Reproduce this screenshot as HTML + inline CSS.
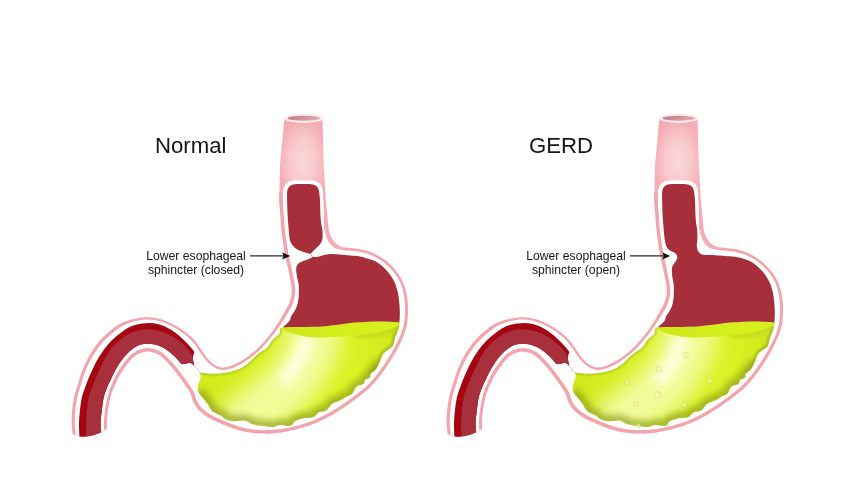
<!DOCTYPE html>
<html><head><meta charset="utf-8"><title>GERD</title>
<style>
html,body{margin:0;padding:0;background:#fff;}
body{width:852px;height:480px;overflow:hidden;position:relative;font-family:"Liberation Sans",sans-serif;color:#161616;}
svg{position:absolute;left:0;top:0;}
.t,.l{will-change:transform;}
.t{position:absolute;white-space:nowrap;font-size:22.2px;line-height:22px;}
.l{position:absolute;white-space:nowrap;font-size:12.2px;line-height:14px;text-align:center;width:140px;}
</style></head><body>
<svg width="852" height="480" viewBox="0 0 852 480">
<defs>
<radialGradient id="tubeg" gradientUnits="userSpaceOnUse" cx="303" cy="162" r="30" gradientTransform="translate(303 162) scale(0.85 1.5) translate(-303 -162)">
<stop offset="0" stop-color="#fbd8da"/><stop offset="0.5" stop-color="#f9c9cc"/><stop offset="1" stop-color="#f4abb2"/></radialGradient>
<linearGradient id="holeg" x1="0" y1="0" x2="1" y2="0.3"><stop offset="0" stop-color="#c07a86"/><stop offset="0.5" stop-color="#cf8e98"/><stop offset="1" stop-color="#e2a9b0"/></linearGradient>
<linearGradient id="liqg" gradientUnits="userSpaceOnUse" x1="200" y1="390" x2="400" y2="340">
<stop offset="0" stop-color="#d0ea1c"/><stop offset="0.3" stop-color="#d6f01e"/><stop offset="0.75" stop-color="#daf324"/><stop offset="1" stop-color="#d0e81c"/></linearGradient>
<filter id="blur" x="-20%" y="-20%" width="140%" height="140%"><feGaussianBlur stdDeviation="3.2"/></filter>
<filter id="blur1" x="-20%" y="-20%" width="140%" height="140%"><feGaussianBlur stdDeviation="0.9"/></filter>
<filter id="blur4" x="-60%" y="-60%" width="220%" height="220%"><feGaussianBlur stdDeviation="5"/></filter>
<filter id="blur8" x="-60%" y="-60%" width="220%" height="220%"><feGaussianBlur stdDeviation="10"/></filter>
<linearGradient id="surfg" gradientUnits="userSpaceOnUse" x1="281" y1="0" x2="400" y2="0"><stop offset="0" stop-color="#cee61a"/><stop offset="0.5" stop-color="#d4ee1b"/><stop offset="1" stop-color="#d7f11e"/></linearGradient>
<clipPath id="liqclip"><path d="M200.00 372.50 C201.67 372.71 206.67 373.58 210.00 373.75 C213.33 373.92 216.67 373.81 220.00 373.50 C223.33 373.19 226.67 372.69 230.00 371.90 C233.33 371.11 237.08 370.07 240.00 368.75 C242.92 367.43 245.21 365.79 247.50 364.00 C249.79 362.21 251.67 359.90 253.75 358.00 C255.83 356.10 257.71 354.35 260.00 352.60 C262.29 350.85 265.42 349.60 267.50 347.50 C269.58 345.40 270.52 342.29 272.50 340.00 C274.48 337.71 278.15 335.65 279.40 333.75 C280.65 331.85 279.40 329.69 280.00 328.60 C280.60 327.51 282.50 327.43 283.00 327.20 C285.00 327.17 290.83 327.05 295.00 327.00 C299.17 326.95 303.50 326.98 308.00 326.90 C312.50 326.82 317.83 326.77 322.00 326.50 C326.17 326.23 329.50 325.73 333.00 325.30 C336.50 324.87 339.67 324.33 343.00 323.90 C346.33 323.47 349.33 323.03 353.00 322.70 C356.67 322.37 360.50 322.10 365.00 321.90 C369.50 321.70 374.27 321.43 380.00 321.50 C385.73 321.57 396.17 322.17 399.40 322.30 C399.18 323.75 398.83 327.50 398.10 330.00 C397.37 332.50 395.93 334.80 395.00 337.50 C394.07 340.20 394.38 343.60 392.50 346.20 C390.62 348.80 385.78 350.60 383.70 353.10 C381.62 355.60 381.25 358.60 380.00 361.20 C378.75 363.80 377.77 366.62 376.20 368.70 C374.63 370.78 371.63 372.23 370.60 373.70 C369.57 375.17 370.93 376.45 370.00 377.50 C369.07 378.55 366.05 378.97 365.00 380.00 C363.95 381.03 365.12 382.62 363.70 383.70 C362.28 384.78 358.42 384.83 356.50 386.50 C354.58 388.17 353.75 392.08 352.20 393.70 C350.65 395.32 349.07 395.15 347.20 396.20 C345.33 397.25 343.50 398.75 341.00 400.00 C338.50 401.25 334.70 401.93 332.20 403.70 C329.70 405.47 328.28 409.13 326.00 410.60 C323.72 412.07 320.58 411.45 318.50 412.50 C316.42 413.55 315.80 415.97 313.50 416.90 C311.20 417.83 307.83 417.38 304.70 418.10 C301.57 418.82 296.98 419.95 294.70 421.20 C292.42 422.45 293.50 424.97 291.00 425.60 C288.50 426.23 282.62 424.78 279.70 425.00 C276.78 425.22 275.78 426.70 273.50 426.90 C271.22 427.10 268.25 426.42 266.00 426.20 C263.75 425.98 262.47 426.02 260.00 425.60 C257.53 425.18 253.70 424.53 251.20 423.70 C248.70 422.87 247.70 421.02 245.00 420.60 C242.30 420.18 238.13 421.40 235.00 421.20 C231.87 421.00 228.70 420.43 226.20 419.40 C223.70 418.37 222.28 416.37 220.00 415.00 C217.72 413.63 214.58 413.08 212.50 411.20 C210.42 409.32 209.17 405.98 207.50 403.70 C205.83 401.42 204.07 399.58 202.50 397.50 C200.93 395.42 198.83 393.28 198.10 391.20 C197.37 389.12 197.68 387.28 198.10 385.00 C198.52 382.72 200.28 379.58 200.60 377.50 C200.92 375.42 200.10 373.33 200.00 372.50Z"/></clipPath>
<g id="base">
<path d="M284.4 118.4 L280 165 L279.5 190 L279.6 206 L300 206 L323.3 200 L324.2 230 L326.7 238.3 Q328.6 242.5 331.7 245.8 Q334 247.8 336.7 248.75 Q341 250 348 250.4 L348 247.7 Q344.5 247.6 341.7 247 Q339 246 336.7 244.2 Q333.5 241.5 331.7 238.3 Q329.8 235 328.75 230 L325.8 200 L323.75 165 L322.5 118.4 Z" fill="url(#tubeg)"/>
<path d="M281.2 212 L281.2 204 L282.7 203 L282.8 193 Q283 180.2 297 180.2 L309.5 180.2 Q322.8 180.4 323.1 193 L323.3 200 L324.2 230 L326.7 238.3 L300 240 L284 240 Z" fill="#fff"/>
<path d="M279.05 192.03 L279.06 192.59 L279.07 193.29 L279.08 194.13 L279.09 195.09 L279.11 196.18 L279.14 197.38 L279.19 198.68 L279.25 200.09 L279.34 201.64 L279.44 203.37 L279.56 205.23 L279.69 207.18 L279.83 209.19 L279.97 211.21 L280.11 213.20 L280.25 215.13 L280.39 217.00 L280.52 218.87 L280.65 220.75 L280.79 222.63 L280.94 224.52 L281.10 226.40 L281.27 228.29 L281.46 230.19 L281.68 232.11 L281.92 234.09 L282.17 236.07 L282.44 238.05 L282.71 239.99 L282.98 241.85 L283.23 243.61 L283.47 245.25 L283.69 246.77 L283.90 248.21 L284.11 249.56 L284.31 250.84 L284.51 252.05 L284.70 253.19 L284.89 254.28 L285.08 255.33 L285.26 256.26 L285.44 257.05 L285.60 257.74 L285.76 258.37 L285.92 258.99 L286.09 259.66 L286.28 260.43 L286.49 261.38 L286.73 262.49 L287.00 263.72 L287.28 265.03 L287.57 266.42 L287.87 267.86 L288.18 269.34 L288.48 270.84 L288.79 272.35 L289.11 273.91 L289.45 275.54 L289.81 277.22 L290.17 278.91 L290.50 280.59 L290.81 282.22 L291.07 283.77 L291.26 285.22 L291.41 286.58 L291.54 287.87 L291.62 289.09 L291.68 290.27 L291.69 291.41 L291.66 292.53 L291.59 293.64 L291.47 294.77 L291.28 295.92 L291.03 297.11 L290.72 298.32 L290.38 299.52 L290.00 300.71 L289.61 301.84 L289.23 302.90 L288.87 303.87 L288.55 304.66 L288.25 305.31 L287.96 305.87 L287.66 306.41 L287.33 306.97 L286.95 307.60 L286.52 308.32 L286.05 309.17 L285.54 310.11 L285.02 311.10 L284.47 312.13 L283.89 313.21 L283.28 314.33 L282.64 315.48 L281.96 316.68 L281.23 317.91 L280.45 319.19 L279.63 320.54 L278.78 321.92 L277.88 323.34 L276.95 324.79 L275.98 326.26 L274.98 327.73 L273.93 329.22 L272.82 330.74 L271.65 332.31 L270.42 333.92 L269.16 335.54 L267.88 337.15 L266.59 338.72 L265.32 340.23 L264.06 341.67 L262.83 343.04 L261.59 344.38 L260.35 345.67 L259.12 346.93 L257.88 348.15 L256.65 349.32 L255.41 350.46 L254.18 351.56 L252.96 352.61 L251.75 353.61 L250.54 354.57 L249.34 355.49 L248.12 356.38 L246.89 357.25 L245.62 358.11 L244.33 358.96 L242.99 359.82 L241.62 360.67 L240.22 361.52 L238.82 362.34 L237.41 363.11 L236.01 363.83 L234.62 364.49 L233.25 365.06 L231.87 365.57 L230.46 366.05 L229.06 366.48 L227.66 366.84 L226.30 367.14 L224.98 367.35 L223.72 367.47 L222.54 367.49 L221.42 367.40 L220.35 367.22 L219.31 366.96 L218.30 366.61 L217.30 366.19 L216.31 365.71 L215.32 365.16 L214.34 364.58 L213.38 363.95 L212.45 363.25 L211.52 362.47 L210.61 361.64 L209.71 360.75 L208.82 359.83 L207.95 358.88 L207.10 357.93 L206.29 356.96 L205.51 355.95 L204.75 354.90 L204.00 353.81 L203.25 352.70 L202.50 351.57 L201.74 350.44 L200.96 349.33 L200.20 348.24 L199.46 347.14 L198.72 346.03 L197.97 344.90 L197.19 343.77 L196.38 342.65 L195.50 341.53 L194.57 340.43 L193.60 339.37 L192.61 338.33 L191.59 337.31 L190.52 336.30 L189.41 335.29 L188.24 334.29 L187.00 333.28 L185.69 332.28 L184.29 331.25 L182.79 330.20 L181.23 329.15 L179.60 328.10 L177.95 327.07 L176.29 326.08 L174.64 325.15 L173.03 324.28 L171.45 323.48 L169.86 322.71 L168.28 321.99 L166.69 321.31 L165.09 320.68 L163.50 320.11 L161.90 319.58 L160.30 319.12 L158.70 318.71 L157.10 318.35 L155.51 318.04 L153.91 317.79 L152.31 317.59 L150.71 317.44 L149.11 317.35 L147.51 317.30 L145.91 317.31 L144.31 317.37 L142.71 317.48 L141.11 317.64 L139.51 317.84 L137.91 318.09 L136.32 318.38 L134.72 318.70 L133.09 319.08 L131.43 319.51 L129.75 319.98 L128.08 320.50 L126.44 321.06 L124.84 321.64 L123.31 322.25 L121.87 322.87 L120.57 323.48 L119.39 324.08 L118.29 324.70 L117.23 325.35 L116.18 326.06 L115.11 326.85 L113.96 327.74 L112.69 328.76 L111.28 329.91 L109.74 331.19 L108.13 332.58 L106.46 334.05 L104.78 335.59 L103.12 337.18 L101.51 338.80 L100.01 340.44 L98.59 342.10 L97.22 343.80 L95.89 345.54 L94.60 347.32 L93.35 349.13 L92.14 350.97 L90.97 352.82 L89.84 354.70 L88.75 356.63 L87.69 358.60 L86.68 360.61 L85.70 362.63 L84.77 364.66 L83.89 366.68 L83.05 368.67 L82.25 370.63 L81.51 372.58 L80.82 374.54 L80.19 376.49 L79.61 378.42 L79.05 380.30 L78.53 382.12 L78.02 383.88 L77.52 385.55 L77.02 387.12 L76.55 388.61 L76.08 390.04 L75.64 391.43 L75.21 392.82 L74.81 394.22 L74.43 395.66 L74.08 397.17 L73.76 398.72 L73.47 400.29 L73.21 401.88 L72.97 403.47 L72.76 405.07 L72.57 406.67 L72.39 408.27 L72.23 409.85 L72.09 411.43 L71.95 413.02 L71.84 414.61 L71.74 416.20 L71.67 417.79 L71.62 419.38 L71.60 420.96 L71.61 422.53 L71.66 424.18 L71.77 425.93 L71.91 427.70 L72.07 429.44 L72.24 431.07 L72.39 432.52 L72.52 433.74 L72.61 434.65 L75.79 434.35 L75.70 433.42 L75.57 432.19 L75.42 430.74 L75.25 429.13 L75.09 427.43 L74.95 425.70 L74.85 424.03 L74.79 422.47 L74.78 420.97 L74.80 419.44 L74.84 417.91 L74.91 416.36 L75.00 414.81 L75.10 413.26 L75.23 411.70 L75.37 410.15 L75.52 408.59 L75.69 407.03 L75.87 405.46 L76.08 403.90 L76.30 402.35 L76.55 400.82 L76.82 399.31 L77.12 397.83 L77.45 396.41 L77.81 395.04 L78.19 393.70 L78.60 392.36 L79.04 390.98 L79.50 389.56 L79.98 388.06 L80.48 386.45 L80.99 384.75 L81.51 382.98 L82.03 381.17 L82.58 379.31 L83.16 377.43 L83.77 375.54 L84.43 373.65 L85.15 371.77 L85.93 369.87 L86.75 367.92 L87.62 365.95 L88.54 363.97 L89.49 362.00 L90.48 360.05 L91.50 358.15 L92.56 356.30 L93.66 354.48 L94.79 352.68 L95.97 350.90 L97.18 349.15 L98.43 347.44 L99.71 345.77 L101.04 344.14 L102.39 342.56 L103.82 341.00 L105.36 339.45 L106.96 337.92 L108.59 336.43 L110.22 334.99 L111.81 333.64 L113.32 332.38 L114.71 331.24 L115.95 330.24 L117.04 329.38 L118.03 328.62 L118.97 327.95 L119.90 327.33 L120.87 326.74 L121.93 326.15 L123.13 325.53 L124.46 324.89 L125.89 324.26 L127.40 323.65 L128.96 323.06 L130.55 322.50 L132.15 321.98 L133.73 321.51 L135.28 321.10 L136.81 320.73 L138.34 320.41 L139.86 320.13 L141.39 319.90 L142.92 319.71 L144.44 319.59 L145.96 319.51 L147.49 319.50 L149.01 319.54 L150.54 319.64 L152.07 319.79 L153.59 319.98 L155.12 320.23 L156.65 320.53 L158.17 320.88 L159.70 321.28 L161.23 321.74 L162.75 322.25 L164.28 322.81 L165.81 323.42 L167.35 324.08 L168.89 324.79 L170.43 325.54 L171.97 326.32 L173.53 327.16 L175.14 328.07 L176.76 329.04 L178.37 330.04 L179.96 331.07 L181.49 332.10 L182.95 333.13 L184.31 334.12 L185.57 335.09 L186.76 336.06 L187.88 337.02 L188.95 337.99 L189.97 338.96 L190.95 339.95 L191.91 340.95 L192.83 341.97 L193.70 343.00 L194.52 344.04 L195.29 345.12 L196.04 346.21 L196.78 347.32 L197.52 348.44 L198.27 349.56 L199.04 350.67 L199.80 351.77 L200.55 352.88 L201.30 354.00 L202.05 355.13 L202.82 356.25 L203.61 357.36 L204.44 358.44 L205.30 359.47 L206.19 360.47 L207.09 361.45 L208.01 362.42 L208.97 363.36 L209.95 364.27 L210.96 365.12 L212.00 365.91 L213.06 366.62 L214.12 367.25 L215.20 367.84 L216.30 368.38 L217.44 368.87 L218.62 369.27 L219.85 369.59 L221.13 369.81 L222.46 369.91 L223.85 369.90 L225.28 369.76 L226.74 369.53 L228.23 369.22 L229.72 368.83 L231.21 368.38 L232.69 367.88 L234.15 367.34 L235.61 366.74 L237.09 366.05 L238.57 365.29 L240.03 364.49 L241.48 363.65 L242.91 362.78 L244.31 361.91 L245.67 361.04 L247.00 360.17 L248.30 359.30 L249.57 358.40 L250.83 357.48 L252.07 356.54 L253.31 355.55 L254.56 354.52 L255.82 353.44 L257.09 352.31 L258.35 351.15 L259.62 349.94 L260.88 348.70 L262.15 347.41 L263.41 346.09 L264.67 344.73 L265.94 343.33 L267.22 341.86 L268.52 340.33 L269.84 338.74 L271.15 337.12 L272.44 335.50 L273.71 333.89 L274.92 332.31 L276.07 330.78 L277.17 329.29 L278.23 327.80 L279.26 326.33 L280.24 324.88 L281.18 323.47 L282.09 322.09 L282.95 320.76 L283.77 319.49 L284.56 318.26 L285.31 317.05 L286.01 315.89 L286.67 314.77 L287.29 313.70 L287.88 312.68 L288.43 311.72 L288.95 310.83 L289.42 310.05 L289.85 309.39 L290.24 308.79 L290.62 308.19 L291.01 307.56 L291.38 306.85 L291.76 306.05 L292.13 305.13 L292.51 304.11 L292.92 303.00 L293.32 301.80 L293.72 300.54 L294.10 299.23 L294.44 297.90 L294.72 296.56 L294.93 295.23 L295.07 293.95 L295.16 292.69 L295.19 291.43 L295.17 290.17 L295.12 288.89 L295.02 287.58 L294.90 286.22 L294.74 284.78 L294.53 283.24 L294.26 281.61 L293.94 279.92 L293.60 278.21 L293.24 276.50 L292.88 274.82 L292.53 273.19 L292.21 271.65 L291.91 270.15 L291.60 268.64 L291.30 267.15 L290.99 265.70 L290.70 264.31 L290.42 262.99 L290.15 261.75 L289.91 260.62 L289.69 259.64 L289.49 258.82 L289.31 258.12 L289.15 257.50 L289.00 256.91 L288.85 256.28 L288.69 255.55 L288.52 254.67 L288.33 253.67 L288.15 252.60 L287.96 251.48 L287.77 250.29 L287.57 249.02 L287.36 247.68 L287.15 246.26 L286.93 244.75 L286.70 243.11 L286.44 241.35 L286.18 239.50 L285.91 237.57 L285.64 235.62 L285.39 233.65 L285.15 231.71 L284.94 229.81 L284.75 227.96 L284.58 226.10 L284.43 224.23 L284.28 222.37 L284.15 220.50 L284.01 218.63 L283.88 216.75 L283.75 214.87 L283.61 212.95 L283.46 210.96 L283.32 208.95 L283.18 206.94 L283.05 205.00 L282.94 203.15 L282.83 201.44 L282.75 199.91 L282.68 198.54 L282.64 197.27 L282.61 196.10 L282.59 195.03 L282.58 194.09 L282.57 193.26 L282.56 192.55 L282.55 191.97Z" fill="#f2a3ab"/>
<path d="M107.10 429.43 L107.07 428.91 L107.03 428.27 L106.98 427.53 L106.93 426.70 L106.88 425.78 L106.86 424.78 L106.85 423.71 L106.89 422.56 L106.95 421.28 L107.03 419.86 L107.13 418.32 L107.26 416.72 L107.40 415.07 L107.56 413.41 L107.75 411.78 L107.95 410.20 L108.18 408.64 L108.43 407.05 L108.71 405.44 L109.00 403.84 L109.31 402.26 L109.64 400.72 L109.97 399.25 L110.31 397.85 L110.63 396.57 L110.95 395.41 L111.26 394.34 L111.58 393.31 L111.94 392.27 L112.36 391.17 L112.84 389.95 L113.41 388.58 L114.08 387.03 L114.81 385.33 L115.60 383.55 L116.45 381.70 L117.34 379.84 L118.26 378.00 L119.20 376.22 L120.15 374.54 L121.15 372.90 L122.24 371.24 L123.38 369.58 L124.55 367.95 L125.71 366.38 L126.84 364.90 L127.90 363.52 L128.87 362.28 L129.73 361.21 L130.48 360.28 L131.16 359.48 L131.79 358.79 L132.40 358.17 L133.04 357.59 L133.73 357.02 L134.52 356.42 L135.41 355.81 L136.37 355.21 L137.38 354.62 L138.42 354.07 L139.47 353.56 L140.52 353.10 L141.54 352.70 L142.52 352.38 L143.45 352.11 L144.36 351.90 L145.24 351.74 L146.11 351.63 L146.98 351.58 L147.87 351.58 L148.79 351.63 L149.76 351.74 L150.80 351.91 L151.89 352.13 L153.02 352.41 L154.16 352.75 L155.30 353.14 L156.42 353.59 L157.50 354.08 L158.53 354.63 L159.50 355.23 L160.45 355.90 L161.39 356.64 L162.32 357.44 L163.27 358.30 L164.23 359.23 L165.22 360.21 L166.24 361.24 L167.28 362.32 L168.35 363.47 L169.44 364.69 L170.55 365.96 L171.65 367.25 L172.73 368.56 L173.79 369.85 L174.82 371.11 L175.82 372.37 L176.82 373.65 L177.80 374.95 L178.77 376.24 L179.71 377.52 L180.61 378.76 L181.46 379.94 L182.26 381.04 L182.99 382.06 L183.66 383.01 L184.28 383.90 L184.86 384.75 L185.41 385.57 L185.95 386.38 L186.48 387.18 L187.02 387.99 L187.56 388.79 L188.09 389.55 L188.58 390.25 L189.05 390.93 L189.49 391.59 L189.91 392.27 L190.30 392.98 L190.67 393.73 L190.99 394.54 L191.29 395.44 L191.57 396.42 L191.85 397.47 L192.15 398.57 L192.49 399.71 L192.89 400.85 L193.38 401.96 L193.90 403.00 L194.43 404.00 L195.00 405.01 L195.62 406.01 L196.29 407.00 L197.02 407.99 L197.82 408.97 L198.70 409.94 L199.64 410.89 L200.65 411.83 L201.72 412.76 L202.84 413.68 L204.01 414.58 L205.22 415.45 L206.47 416.30 L207.75 417.13 L209.08 417.93 L210.46 418.69 L211.88 419.43 L213.33 420.14 L214.80 420.83 L216.29 421.51 L217.78 422.18 L219.27 422.85 L220.79 423.51 L222.34 424.18 L223.91 424.83 L225.51 425.48 L227.11 426.11 L228.71 426.72 L230.32 427.32 L231.90 427.88 L233.48 428.43 L235.05 428.97 L236.63 429.49 L238.22 430.00 L239.81 430.48 L241.41 430.93 L243.02 431.34 L244.63 431.71 L246.28 432.03 L247.95 432.30 L249.64 432.53 L251.30 432.73 L252.93 432.90 L254.50 433.05 L255.98 433.18 L257.35 433.30 L258.59 433.40 L259.69 433.48 L260.71 433.54 L261.69 433.58 L262.67 433.60 L263.69 433.60 L264.79 433.59 L266.04 433.57 L267.52 433.52 L269.22 433.44 L271.04 433.33 L272.88 433.22 L274.66 433.10 L276.27 433.00 L277.61 432.91 L278.60 432.85 L278.40 429.55 L277.40 429.61 L276.05 429.70 L274.45 429.81 L272.68 429.92 L270.85 430.03 L269.05 430.12 L267.39 430.19 L265.96 430.23 L264.75 430.25 L263.69 430.25 L262.72 430.24 L261.81 430.21 L260.90 430.17 L259.93 430.10 L258.87 430.01 L257.65 429.90 L256.28 429.78 L254.82 429.64 L253.28 429.48 L251.70 429.31 L250.09 429.10 L248.48 428.87 L246.90 428.60 L245.37 428.29 L243.86 427.94 L242.34 427.54 L240.81 427.10 L239.28 426.63 L237.74 426.13 L236.20 425.60 L234.65 425.07 L233.10 424.52 L231.54 423.96 L229.98 423.37 L228.41 422.77 L226.84 422.15 L225.28 421.51 L223.74 420.86 L222.22 420.21 L220.73 419.55 L219.25 418.89 L217.77 418.23 L216.32 417.57 L214.89 416.90 L213.51 416.22 L212.16 415.52 L210.88 414.81 L209.65 414.07 L208.46 413.30 L207.29 412.51 L206.16 411.69 L205.07 410.86 L204.04 410.01 L203.06 409.16 L202.14 408.31 L201.30 407.46 L200.54 406.62 L199.85 405.78 L199.22 404.92 L198.63 404.06 L198.09 403.17 L197.57 402.27 L197.08 401.35 L196.62 400.44 L196.23 399.53 L195.89 398.59 L195.59 397.59 L195.30 396.54 L195.02 395.47 L194.71 394.39 L194.36 393.31 L193.93 392.27 L193.47 391.33 L193.00 390.47 L192.51 389.67 L192.01 388.92 L191.51 388.20 L191.01 387.49 L190.50 386.77 L189.98 386.01 L189.45 385.21 L188.92 384.40 L188.37 383.59 L187.80 382.75 L187.21 381.88 L186.57 380.96 L185.88 379.99 L185.14 378.96 L184.34 377.85 L183.48 376.67 L182.57 375.42 L181.62 374.13 L180.64 372.81 L179.63 371.49 L178.61 370.17 L177.58 368.89 L176.54 367.61 L175.46 366.30 L174.35 364.97 L173.23 363.65 L172.10 362.35 L170.97 361.09 L169.85 359.89 L168.76 358.76 L167.71 357.71 L166.70 356.70 L165.68 355.73 L164.66 354.80 L163.62 353.91 L162.55 353.07 L161.44 352.29 L160.27 351.57 L159.06 350.93 L157.80 350.35 L156.52 349.84 L155.23 349.40 L153.94 349.02 L152.67 348.70 L151.43 348.45 L150.24 348.26 L149.08 348.13 L147.96 348.07 L146.86 348.07 L145.78 348.14 L144.71 348.27 L143.65 348.47 L142.58 348.72 L141.48 349.02 L140.35 349.40 L139.18 349.86 L138.00 350.37 L136.83 350.94 L135.68 351.56 L134.56 352.21 L133.48 352.89 L132.48 353.58 L131.57 354.27 L130.74 354.95 L129.98 355.65 L129.25 356.38 L128.53 357.18 L127.79 358.04 L127.00 359.01 L126.13 360.12 L125.14 361.38 L124.06 362.78 L122.92 364.31 L121.74 365.93 L120.56 367.63 L119.40 369.36 L118.29 371.12 L117.25 372.86 L116.28 374.65 L115.33 376.53 L114.41 378.45 L113.54 380.37 L112.71 382.27 L111.94 384.11 L111.23 385.83 L110.59 387.42 L110.03 388.84 L109.55 390.12 L109.14 391.29 L108.78 392.41 L108.45 393.51 L108.14 394.64 L107.82 395.84 L107.49 397.15 L107.15 398.59 L106.80 400.10 L106.47 401.68 L106.15 403.29 L105.84 404.92 L105.55 406.56 L105.29 408.19 L105.05 409.80 L104.84 411.42 L104.64 413.10 L104.47 414.79 L104.32 416.47 L104.19 418.11 L104.08 419.67 L103.98 421.12 L103.91 422.44 L103.87 423.66 L103.87 424.82 L103.90 425.89 L103.94 426.86 L103.99 427.73 L104.04 428.47 L104.08 429.09 L104.10 429.57Z" fill="#f2a3ab"/>
<path d="M266.07 433.55 L267.03 433.51 L268.30 433.46 L269.83 433.41 L271.54 433.34 L273.35 433.26 L275.19 433.15 L277.00 433.01 L278.69 432.84 L280.29 432.63 L281.88 432.39 L283.47 432.12 L285.06 431.83 L286.64 431.52 L288.21 431.19 L289.79 430.85 L291.36 430.50 L292.94 430.14 L294.51 429.77 L296.09 429.38 L297.67 428.97 L299.25 428.54 L300.82 428.10 L302.40 427.64 L303.98 427.17 L305.55 426.68 L307.13 426.18 L308.70 425.66 L310.28 425.12 L311.87 424.57 L313.45 423.98 L315.04 423.36 L316.64 422.70 L318.23 422.01 L319.81 421.28 L321.40 420.53 L322.98 419.75 L324.56 418.94 L326.13 418.12 L327.71 417.28 L329.28 416.42 L330.86 415.55 L332.43 414.65 L334.01 413.74 L335.58 412.80 L337.16 411.84 L338.73 410.87 L340.31 409.87 L341.88 408.85 L343.47 407.80 L345.07 406.72 L346.67 405.61 L348.26 404.49 L349.85 403.36 L351.41 402.22 L352.95 401.10 L354.45 399.99 L355.95 398.88 L357.46 397.75 L358.96 396.61 L360.44 395.47 L361.87 394.36 L363.24 393.27 L364.54 392.22 L365.73 391.22 L366.81 390.31 L367.77 389.46 L368.64 388.66 L369.46 387.89 L370.25 387.12 L371.02 386.33 L371.82 385.49 L372.67 384.59 L373.55 383.64 L374.42 382.68 L375.30 381.69 L376.19 380.66 L377.09 379.59 L378.02 378.45 L378.98 377.25 L379.97 375.97 L381.01 374.58 L382.10 373.09 L383.23 371.53 L384.38 369.91 L385.53 368.26 L386.66 366.61 L387.76 364.96 L388.82 363.36 L389.84 361.77 L390.84 360.18 L391.83 358.58 L392.79 356.98 L393.73 355.39 L394.64 353.82 L395.52 352.27 L396.36 350.75 L397.17 349.23 L397.97 347.72 L398.73 346.21 L399.46 344.73 L400.16 343.28 L400.81 341.90 L401.43 340.57 L401.99 339.33 L402.50 338.19 L402.95 337.14 L403.36 336.16 L403.73 335.23 L404.08 334.31 L404.40 333.39 L404.72 332.45 L405.04 331.46 L405.35 330.45 L405.66 329.46 L405.95 328.46 L406.23 327.43 L406.50 326.36 L406.75 325.23 L406.98 324.02 L407.18 322.71 L407.37 321.31 L407.54 319.81 L407.69 318.24 L407.82 316.61 L407.93 314.95 L408.01 313.28 L408.06 311.63 L408.08 310.00 L408.06 308.38 L408.01 306.70 L407.92 305.01 L407.81 303.34 L407.68 301.70 L407.53 300.14 L407.38 298.67 L407.22 297.33 L407.05 296.12 L406.87 295.03 L406.68 294.04 L406.47 293.12 L406.25 292.25 L406.02 291.40 L405.78 290.54 L405.52 289.64 L405.26 288.70 L404.98 287.75 L404.70 286.80 L404.39 285.84 L404.07 284.88 L403.71 283.91 L403.33 282.94 L402.91 281.96 L402.46 281.00 L401.98 280.03 L401.48 279.06 L400.95 278.09 L400.39 277.12 L399.81 276.16 L399.20 275.21 L398.57 274.26 L397.91 273.33 L397.22 272.39 L396.50 271.46 L395.76 270.54 L395.00 269.64 L394.23 268.74 L393.44 267.87 L392.65 267.01 L391.85 266.17 L391.05 265.35 L390.23 264.54 L389.39 263.74 L388.54 262.96 L387.65 262.18 L386.74 261.42 L385.80 260.67 L384.81 259.93 L383.79 259.19 L382.74 258.47 L381.66 257.75 L380.58 257.06 L379.49 256.40 L378.40 255.76 L377.32 255.16 L376.25 254.59 L375.18 254.05 L374.10 253.54 L373.02 253.05 L371.94 252.59 L370.87 252.16 L369.80 251.75 L368.72 251.37 L367.65 251.01 L366.57 250.69 L365.50 250.39 L364.43 250.12 L363.37 249.87 L362.32 249.64 L361.28 249.42 L360.24 249.22 L359.19 249.04 L358.14 248.87 L357.10 248.73 L356.07 248.61 L355.05 248.50 L354.05 248.40 L353.08 248.30 L352.12 248.21 L351.14 248.12 L350.12 248.03 L349.08 247.96 L348.08 247.89 L347.15 247.83 L346.31 247.78 L345.62 247.74 L345.09 247.70 L344.91 250.30 L345.45 250.33 L346.16 250.38 L346.99 250.43 L347.92 250.48 L348.90 250.55 L349.92 250.62 L350.92 250.71 L351.88 250.79 L352.82 250.89 L353.79 250.98 L354.78 251.08 L355.77 251.19 L356.77 251.31 L357.77 251.45 L358.77 251.60 L359.76 251.78 L360.77 251.97 L361.78 252.18 L362.80 252.40 L363.82 252.64 L364.83 252.90 L365.85 253.19 L366.86 253.49 L367.88 253.83 L368.90 254.19 L369.92 254.58 L370.95 255.00 L371.98 255.43 L373.01 255.90 L374.03 256.39 L375.06 256.90 L376.08 257.44 L377.11 258.02 L378.15 258.63 L379.20 259.27 L380.25 259.93 L381.28 260.62 L382.29 261.32 L383.27 262.02 L384.20 262.73 L385.10 263.44 L385.96 264.16 L386.80 264.90 L387.62 265.64 L388.42 266.41 L389.20 267.18 L389.98 267.98 L390.75 268.79 L391.52 269.62 L392.28 270.46 L393.02 271.32 L393.75 272.19 L394.46 273.07 L395.15 273.96 L395.80 274.85 L396.43 275.74 L397.02 276.63 L397.60 277.53 L398.14 278.44 L398.67 279.36 L399.16 280.28 L399.63 281.20 L400.08 282.12 L400.49 283.04 L400.87 283.94 L401.22 284.84 L401.54 285.75 L401.83 286.66 L402.11 287.58 L402.37 288.50 L402.63 289.43 L402.88 290.36 L403.12 291.27 L403.34 292.12 L403.55 292.93 L403.74 293.75 L403.92 294.60 L404.08 295.51 L404.24 296.53 L404.38 297.67 L404.52 298.98 L404.66 300.41 L404.79 301.94 L404.90 303.54 L405.00 305.17 L405.07 306.81 L405.11 308.43 L405.12 310.00 L405.09 311.55 L405.04 313.16 L404.95 314.78 L404.84 316.39 L404.71 317.97 L404.56 319.50 L404.39 320.95 L404.22 322.29 L404.02 323.50 L403.81 324.62 L403.58 325.67 L403.33 326.67 L403.06 327.63 L402.78 328.59 L402.48 329.55 L402.16 330.54 L401.85 331.50 L401.55 332.40 L401.24 333.26 L400.91 334.12 L400.55 335.01 L400.16 335.94 L399.71 336.96 L399.21 338.07 L398.65 339.29 L398.04 340.59 L397.39 341.96 L396.70 343.37 L395.98 344.82 L395.22 346.30 L394.44 347.78 L393.64 349.25 L392.81 350.74 L391.94 352.27 L391.04 353.81 L390.11 355.37 L389.16 356.94 L388.18 358.52 L387.19 360.08 L386.18 361.64 L385.14 363.22 L384.05 364.83 L382.92 366.46 L381.79 368.09 L380.65 369.68 L379.53 371.22 L378.46 372.68 L377.43 374.03 L376.47 375.28 L375.54 376.45 L374.64 377.55 L373.76 378.59 L372.90 379.58 L372.04 380.54 L371.19 381.48 L370.33 382.41 L369.50 383.29 L368.73 384.10 L367.98 384.86 L367.24 385.58 L366.47 386.32 L365.63 387.07 L364.71 387.89 L363.67 388.78 L362.50 389.74 L361.24 390.77 L359.89 391.84 L358.47 392.94 L357.02 394.06 L355.53 395.18 L354.03 396.31 L352.55 397.41 L351.05 398.51 L349.52 399.62 L347.97 400.74 L346.40 401.86 L344.82 402.97 L343.25 404.06 L341.68 405.12 L340.12 406.15 L338.57 407.15 L337.02 408.13 L335.47 409.09 L333.92 410.03 L332.37 410.94 L330.82 411.84 L329.27 412.72 L327.72 413.58 L326.17 414.42 L324.62 415.25 L323.07 416.06 L321.52 416.84 L319.98 417.60 L318.44 418.33 L316.90 419.03 L315.36 419.70 L313.83 420.33 L312.30 420.93 L310.76 421.50 L309.22 422.04 L307.67 422.56 L306.12 423.06 L304.57 423.55 L303.02 424.03 L301.47 424.50 L299.93 424.95 L298.38 425.38 L296.83 425.79 L295.29 426.19 L293.74 426.58 L292.19 426.94 L290.64 427.30 L289.09 427.64 L287.54 427.97 L285.99 428.29 L284.44 428.60 L282.90 428.88 L281.37 429.13 L279.83 429.36 L278.31 429.56 L276.71 429.73 L274.97 429.86 L273.18 429.96 L271.40 430.05 L269.71 430.11 L268.19 430.16 L266.90 430.21 L265.93 430.25Z" fill="#f2a3ab"/>
<path d="M73.5 434.6 Q80 437.6 87.5 436.6 Q97 435 106.2 429.4" fill="none" stroke="#f7cdd0" stroke-width="0.9"/>
<ellipse cx="303.9" cy="118.2" rx="19.8" ry="4.8" fill="#fdecee"/>
<ellipse cx="303.7" cy="118.3" rx="16.2" ry="2.5" fill="url(#holeg)"/>
<path d="M79.40 436.20 C79.33 433.92 78.90 426.87 79.00 422.50 C79.10 418.13 79.52 414.17 80.00 410.00 C80.48 405.83 81.02 401.33 81.90 397.50 C82.78 393.67 83.95 390.75 85.30 387.00 C86.65 383.25 87.77 379.92 90.00 375.00 C92.23 370.08 95.37 362.95 98.70 357.50 C102.03 352.05 105.87 346.75 110.00 342.30 C114.13 337.85 119.33 333.68 123.50 330.80 C127.67 327.92 130.58 326.30 135.00 325.00 C139.42 323.70 145.42 322.90 150.00 323.00 C154.58 323.10 158.33 324.02 162.50 325.60 C166.67 327.18 170.83 329.48 175.00 332.50 C179.17 335.52 184.27 340.47 187.50 343.70 C190.73 346.93 193.25 350.53 194.40 351.90 L193.4 354.5 L193 357.5 L193 360 L194.4 365.8 C193.83 365.37 192.15 363.63 191.00 363.20 C189.85 362.77 188.67 363.07 187.50 363.20 C186.33 363.33 185.08 363.95 184.00 364.00 C182.92 364.05 182.50 364.70 181.00 363.50 C179.50 362.30 177.67 359.25 175.00 356.80 C172.33 354.35 168.33 350.83 165.00 348.80 C161.67 346.77 158.33 345.43 155.00 344.60 C151.67 343.77 148.33 343.37 145.00 343.80 C141.67 344.23 138.33 345.17 135.00 347.20 C131.67 349.23 128.13 352.42 125.00 356.00 C121.87 359.58 118.70 364.50 116.20 368.70 C113.70 372.90 111.55 377.98 110.00 381.20 C108.45 384.42 107.95 385.28 106.90 388.00 C105.85 390.72 104.53 393.83 103.70 397.50 C102.87 401.17 102.42 405.83 101.90 410.00 C101.38 414.17 100.72 418.80 100.60 422.50 C100.48 426.20 101.10 430.58 101.20 432.20 Q95 435.3 86.2 436.5 Q82 437.3 79.4 436.2 Z" fill="#a50511"/>
<path d="M193.00 357.50 C192.08 356.03 190.50 351.93 187.50 348.70 C184.50 345.47 179.17 340.90 175.00 338.10 C170.83 335.30 166.67 333.35 162.50 331.90 C158.33 330.45 154.17 329.62 150.00 329.40 C145.83 329.18 141.75 329.42 137.50 330.60 C133.25 331.78 128.83 333.55 124.50 336.50 C120.17 339.45 115.38 343.35 111.50 348.30 C107.62 353.25 103.95 360.92 101.20 366.20 C98.45 371.48 96.55 376.37 95.00 380.00 C93.45 383.63 92.95 385.08 91.90 388.00 C90.85 390.92 89.53 393.83 88.70 397.50 C87.87 401.17 87.35 405.83 86.90 410.00 C86.45 414.17 86.12 418.08 86.00 422.50 C85.88 426.92 86.17 434.17 86.20 436.50 Q95 435.3 101.2 432.2 C101.10 430.58 100.48 426.20 100.60 422.50 C100.72 418.80 101.38 414.17 101.90 410.00 C102.42 405.83 102.87 401.17 103.70 397.50 C104.53 393.83 105.85 390.72 106.90 388.00 C107.95 385.28 108.45 384.42 110.00 381.20 C111.55 377.98 113.70 372.90 116.20 368.70 C118.70 364.50 121.87 359.58 125.00 356.00 C128.13 352.42 131.67 349.23 135.00 347.20 C138.33 345.17 141.67 344.23 145.00 343.80 C148.33 343.37 151.67 343.77 155.00 344.60 C158.33 345.43 161.67 346.77 165.00 348.80 C168.33 350.83 172.33 354.35 175.00 356.80 C177.67 359.25 179.50 362.30 181.00 363.50 C182.50 364.70 182.92 364.05 184.00 364.00 C185.08 363.95 186.33 363.33 187.50 363.20 C188.67 363.07 189.85 362.77 191.00 363.20 C192.15 363.63 193.83 365.37 194.40 365.80 L193 360 L193 357.5 Z" fill="#a8303c"/>
<path d="M194.4 365.8 L200 372.5" stroke="#b9848a" stroke-width="0.5" fill="none"/>
<path d="M200.00 372.50 C201.67 372.71 206.67 373.58 210.00 373.75 C213.33 373.92 216.67 373.81 220.00 373.50 C223.33 373.19 226.67 372.69 230.00 371.90 C233.33 371.11 237.08 370.07 240.00 368.75 C242.92 367.43 245.21 365.79 247.50 364.00 C249.79 362.21 251.67 359.90 253.75 358.00 C255.83 356.10 257.71 354.35 260.00 352.60 C262.29 350.85 265.42 349.60 267.50 347.50 C269.58 345.40 270.52 342.29 272.50 340.00 C274.48 337.71 278.15 335.65 279.40 333.75 C280.65 331.85 279.40 329.69 280.00 328.60 C280.60 327.51 282.50 327.43 283.00 327.20 C285.00 327.17 290.83 327.05 295.00 327.00 C299.17 326.95 303.50 326.98 308.00 326.90 C312.50 326.82 317.83 326.77 322.00 326.50 C326.17 326.23 329.50 325.73 333.00 325.30 C336.50 324.87 339.67 324.33 343.00 323.90 C346.33 323.47 349.33 323.03 353.00 322.70 C356.67 322.37 360.50 322.10 365.00 321.90 C369.50 321.70 374.27 321.43 380.00 321.50 C385.73 321.57 396.17 322.17 399.40 322.30 C399.18 323.75 398.83 327.50 398.10 330.00 C397.37 332.50 395.93 334.80 395.00 337.50 C394.07 340.20 394.38 343.60 392.50 346.20 C390.62 348.80 385.78 350.60 383.70 353.10 C381.62 355.60 381.25 358.60 380.00 361.20 C378.75 363.80 377.77 366.62 376.20 368.70 C374.63 370.78 371.63 372.23 370.60 373.70 C369.57 375.17 370.93 376.45 370.00 377.50 C369.07 378.55 366.05 378.97 365.00 380.00 C363.95 381.03 365.12 382.62 363.70 383.70 C362.28 384.78 358.42 384.83 356.50 386.50 C354.58 388.17 353.75 392.08 352.20 393.70 C350.65 395.32 349.07 395.15 347.20 396.20 C345.33 397.25 343.50 398.75 341.00 400.00 C338.50 401.25 334.70 401.93 332.20 403.70 C329.70 405.47 328.28 409.13 326.00 410.60 C323.72 412.07 320.58 411.45 318.50 412.50 C316.42 413.55 315.80 415.97 313.50 416.90 C311.20 417.83 307.83 417.38 304.70 418.10 C301.57 418.82 296.98 419.95 294.70 421.20 C292.42 422.45 293.50 424.97 291.00 425.60 C288.50 426.23 282.62 424.78 279.70 425.00 C276.78 425.22 275.78 426.70 273.50 426.90 C271.22 427.10 268.25 426.42 266.00 426.20 C263.75 425.98 262.47 426.02 260.00 425.60 C257.53 425.18 253.70 424.53 251.20 423.70 C248.70 422.87 247.70 421.02 245.00 420.60 C242.30 420.18 238.13 421.40 235.00 421.20 C231.87 421.00 228.70 420.43 226.20 419.40 C223.70 418.37 222.28 416.37 220.00 415.00 C217.72 413.63 214.58 413.08 212.50 411.20 C210.42 409.32 209.17 405.98 207.50 403.70 C205.83 401.42 204.07 399.58 202.50 397.50 C200.93 395.42 198.83 393.28 198.10 391.20 C197.37 389.12 197.68 387.28 198.10 385.00 C198.52 382.72 200.28 379.58 200.60 377.50 C200.92 375.42 200.10 373.33 200.00 372.50Z" fill="url(#liqg)"/>
<g clip-path="url(#liqclip)">
<path d="M314 334 Q310 362 288 386 Q270 404 246 420" fill="none" stroke="#f3fca2" stroke-width="54" stroke-linecap="round" filter="url(#blur8)" opacity="0.95"/>
<path d="M306 341 Q303 358 286 378" fill="none" stroke="#ffffe8" stroke-width="16" stroke-linecap="round" filter="url(#blur4)" opacity="0.8"/>
<path d="M380.00 361.20 C379.37 362.45 377.77 366.62 376.20 368.70 C374.63 370.78 371.63 372.23 370.60 373.70 C369.57 375.17 370.93 376.45 370.00 377.50 C369.07 378.55 366.05 378.97 365.00 380.00 C363.95 381.03 365.12 382.62 363.70 383.70 C362.28 384.78 358.42 384.83 356.50 386.50 C354.58 388.17 353.75 392.08 352.20 393.70 C350.65 395.32 349.07 395.15 347.20 396.20 C345.33 397.25 343.50 398.75 341.00 400.00 C338.50 401.25 334.70 401.93 332.20 403.70 C329.70 405.47 328.28 409.13 326.00 410.60 C323.72 412.07 320.58 411.45 318.50 412.50 C316.42 413.55 315.80 415.97 313.50 416.90 C311.20 417.83 307.83 417.38 304.70 418.10 C301.57 418.82 296.98 419.95 294.70 421.20 C292.42 422.45 293.50 424.97 291.00 425.60 C288.50 426.23 282.62 424.78 279.70 425.00 C276.78 425.22 275.78 426.70 273.50 426.90 C271.22 427.10 268.25 426.42 266.00 426.20 C263.75 425.98 262.47 426.02 260.00 425.60 C257.53 425.18 253.70 424.53 251.20 423.70 C248.70 422.87 247.70 421.02 245.00 420.60 C242.30 420.18 238.13 421.40 235.00 421.20 C231.87 421.00 228.70 420.43 226.20 419.40 C223.70 418.37 222.28 416.37 220.00 415.00 C217.72 413.63 214.58 413.08 212.50 411.20 C210.42 409.32 209.17 405.98 207.50 403.70 C205.83 401.42 204.07 399.58 202.50 397.50 C200.93 395.42 198.83 392.25 198.10 391.20" fill="none" stroke="#8c9d1a" stroke-width="12" filter="url(#blur)" opacity="0.68"/>
<path d="M399.40 322.50 C399.18 323.75 398.83 327.50 398.10 330.00 C397.37 332.50 395.93 334.80 395.00 337.50 C394.07 340.20 394.38 343.60 392.50 346.20 C390.62 348.80 385.78 350.60 383.70 353.10 C381.62 355.60 381.25 358.60 380.00 361.20 C378.75 363.80 377.77 366.62 376.20 368.70 C374.63 370.78 371.53 372.87 370.60 373.70" fill="none" stroke="#97a81c" stroke-width="5" filter="url(#blur1)" opacity="0.7"/>
<path d="M355.00 335.60 C357.17 335.33 363.83 334.60 368.00 334.00 C372.17 333.40 375.92 332.97 380.00 332.00 C384.08 331.03 389.38 329.37 392.50 328.20 C395.62 327.03 397.55 325.95 398.70 325.00 C399.85 324.05 399.28 322.92 399.40 322.50" fill="none" stroke="#b9cd1a" stroke-width="9" filter="url(#blur)" opacity="0.55"/>
<path d="M200.00 372.50 C201.67 372.71 206.67 373.58 210.00 373.75 C213.33 373.92 216.67 373.81 220.00 373.50 C223.33 373.19 226.67 372.69 230.00 371.90 C233.33 371.11 237.08 370.07 240.00 368.75 C242.92 367.43 245.21 365.79 247.50 364.00 C249.79 362.21 251.67 359.90 253.75 358.00 C255.83 356.10 257.71 354.35 260.00 352.60 C262.29 350.85 265.42 349.60 267.50 347.50 C269.58 345.40 270.52 342.29 272.50 340.00 C274.48 337.71 278.15 335.65 279.40 333.75 C280.65 331.85 279.90 329.46 280.00 328.60" fill="none" stroke="#a9bc1c" stroke-width="3" filter="url(#blur1)" opacity="0.8"/></g>
<path d="M280.00 328.60 C281.17 329.08 284.33 330.52 287.00 331.50 C289.67 332.48 293.00 333.67 296.00 334.50 C299.00 335.33 301.83 336.00 305.00 336.50 C308.17 337.00 310.83 337.38 315.00 337.50 C319.17 337.62 325.33 337.35 330.00 337.20 C334.67 337.05 338.83 336.87 343.00 336.60 C347.17 336.33 350.83 336.03 355.00 335.60 C359.17 335.17 363.83 334.60 368.00 334.00 C372.17 333.40 375.92 332.97 380.00 332.00 C384.08 331.03 389.38 329.37 392.50 328.20 C395.62 327.03 397.55 325.95 398.70 325.00 C399.85 324.05 399.28 322.92 399.40 322.50 C396.17 322.17 385.73 321.57 380.00 321.50 C374.27 321.43 369.50 321.70 365.00 321.90 C360.50 322.10 356.67 322.37 353.00 322.70 C349.33 323.03 346.33 323.47 343.00 323.90 C339.67 324.33 336.50 324.87 333.00 325.30 C329.50 325.73 326.17 326.23 322.00 326.50 C317.83 326.77 312.50 326.82 308.00 326.90 C303.50 326.98 299.17 326.95 295.00 327.00 C290.83 327.05 285.00 327.17 283.00 327.20 L280 328.6Z" fill="url(#surfg)"/>
</g>
</defs>
<g>
<use href="#base"/>
<path d="M287.1 200 L287 193 Q287 184.2 297 184.1 L309.5 184.1 Q319 184.3 319.3 193 L320 200 C320.13 203.33 320.40 215.00 320.80 220.00 C321.20 225.00 322.10 227.33 322.40 230.00 C322.70 232.67 322.62 234.42 322.60 236.00 C322.58 237.58 322.73 238.13 322.30 239.50 C321.87 240.87 321.35 242.45 320.00 244.20 C318.65 245.95 315.73 248.40 314.20 250.00 C312.67 251.60 311.37 253.17 310.80 253.80 C309.95 253.65 308.47 253.40 306.70 252.90 C304.93 252.40 301.82 251.53 300.00 250.80 C298.18 250.07 296.98 249.33 295.80 248.50 C294.62 247.67 293.77 246.88 292.90 245.80 C292.03 244.72 291.15 243.25 290.60 242.00 C290.05 240.75 289.91 240.30 289.60 238.30 C289.29 236.30 289.08 233.88 288.75 230.00 C288.42 226.12 287.88 220.00 287.60 215.00 C287.33 210.00 287.18 202.50 287.10 200.00Z" fill="#a62f3b"/>
<path d="M312.50 257.00 C313.47 256.95 316.22 257.07 318.30 256.70 C320.38 256.33 322.77 255.25 325.00 254.80 C327.23 254.35 329.20 254.07 331.70 254.00 C334.20 253.93 336.95 254.15 340.00 254.40 C343.05 254.65 346.67 255.17 350.00 255.50 C353.33 255.83 356.95 255.86 360.00 256.40 C363.05 256.94 365.52 257.82 368.30 258.75 C371.08 259.68 373.92 260.33 376.70 262.00 C379.48 263.67 382.65 266.45 385.00 268.75 C387.35 271.05 389.13 273.38 390.80 275.80 C392.47 278.23 393.98 281.07 395.00 283.30 C396.02 285.53 396.37 287.42 396.90 289.20 C397.43 290.98 397.75 291.16 398.20 294.00 C398.65 296.84 399.33 302.58 399.60 306.25 C399.87 309.92 399.83 313.29 399.80 316.00 C399.77 318.71 399.47 321.42 399.40 322.50 C396.17 322.17 385.73 321.57 380.00 321.50 C374.27 321.43 369.50 321.70 365.00 321.90 C360.50 322.10 356.67 322.37 353.00 322.70 C349.33 323.03 346.33 323.47 343.00 323.90 C339.67 324.33 336.50 324.87 333.00 325.30 C329.50 325.73 326.17 326.23 322.00 326.50 C317.83 326.77 312.50 326.82 308.00 326.90 C303.50 326.98 299.17 326.95 295.00 327.00 C290.83 327.05 285.00 327.17 283.00 327.20 C283.83 326.42 286.83 323.70 288.00 322.50 C289.17 321.30 289.47 321.05 290.00 320.00 C290.53 318.95 290.58 317.45 291.20 316.20 C291.82 314.95 292.75 314.17 293.70 312.50 C294.65 310.83 296.15 308.20 296.90 306.20 C297.65 304.20 297.89 302.37 298.20 300.50 C298.51 298.63 298.66 297.58 298.75 295.00 C298.84 292.42 299.06 288.13 298.75 285.00 C298.44 281.87 297.32 278.98 296.90 276.20 C296.47 273.42 296.03 270.30 296.20 268.30 C296.37 266.30 296.85 265.38 297.90 264.20 C298.95 263.02 300.77 262.08 302.50 261.25 C304.23 260.42 306.63 259.91 308.30 259.20 C309.97 258.49 311.80 257.37 312.50 257.00Z" fill="#a62f3b"/>
<path d="M310.7 253.6 L312.5 257" stroke="#a62f3b" stroke-width="0.5" fill="none"/>
</g>
<g transform="translate(375 0)">
<use href="#base"/>
<path d="M287.1 200 L287 193 Q287 184.2 297 184.1 L309.5 184.1 Q319 184.3 319.3 193 L320 200 C320.13 203.33 320.43 215.00 320.80 220.00 C321.17 225.00 321.95 226.67 322.20 230.00 C322.45 233.33 322.37 237.50 322.30 240.00 C322.23 242.50 321.68 243.17 321.80 245.00 C321.92 246.83 322.13 249.42 323.00 251.00 C323.87 252.58 325.33 253.82 327.00 254.50 C328.67 255.18 330.83 254.97 333.00 255.10 C335.17 255.23 337.17 255.15 340.00 255.30 C342.83 255.45 346.67 255.75 350.00 256.00 C353.33 256.25 356.95 256.34 360.00 256.80 C363.05 257.26 365.52 257.88 368.30 258.75 C371.08 259.62 373.92 260.33 376.70 262.00 C379.48 263.67 382.65 266.45 385.00 268.75 C387.35 271.05 389.13 273.38 390.80 275.80 C392.47 278.23 393.98 281.07 395.00 283.30 C396.02 285.53 396.37 287.42 396.90 289.20 C397.43 290.98 397.75 291.16 398.20 294.00 C398.65 296.84 399.33 302.58 399.60 306.25 C399.87 309.92 399.83 313.29 399.80 316.00 C399.77 318.71 399.47 321.42 399.40 322.50 C396.17 322.17 385.73 321.57 380.00 321.50 C374.27 321.43 369.50 321.70 365.00 321.90 C360.50 322.10 356.67 322.37 353.00 322.70 C349.33 323.03 346.33 323.47 343.00 323.90 C339.67 324.33 336.50 324.87 333.00 325.30 C329.50 325.73 326.17 326.23 322.00 326.50 C317.83 326.77 312.50 326.82 308.00 326.90 C303.50 326.98 299.17 326.95 295.00 327.00 C290.83 327.05 285.00 327.17 283.00 327.20 C283.83 326.42 286.83 323.70 288.00 322.50 C289.17 321.30 289.47 321.05 290.00 320.00 C290.53 318.95 290.58 317.45 291.20 316.20 C291.82 314.95 292.75 314.17 293.70 312.50 C294.65 310.83 296.15 308.20 296.90 306.20 C297.65 304.20 297.89 302.37 298.20 300.50 C298.51 298.63 298.66 297.58 298.75 295.00 C298.84 292.42 299.01 288.13 298.75 285.00 C298.49 281.87 297.49 278.98 297.20 276.20 C296.91 273.42 296.78 270.25 297.00 268.30 C297.22 266.35 297.83 265.72 298.50 264.50 C299.17 263.28 300.37 262.17 301.00 261.00 C301.63 259.83 302.23 258.58 302.30 257.50 C302.37 256.42 302.03 255.37 301.40 254.50 C300.77 253.63 299.65 253.00 298.50 252.30 C297.35 251.60 295.67 251.27 294.50 250.30 C293.33 249.33 292.28 248.22 291.50 246.50 C290.72 244.78 290.26 242.75 289.80 240.00 C289.34 237.25 289.12 234.17 288.75 230.00 C288.38 225.83 287.88 220.00 287.60 215.00 C287.33 210.00 287.18 202.50 287.10 200.00Z" fill="#a62f3b"/>
</g>
<circle cx="685.75" cy="355.00" r="2.8" fill="#f3fab0" fill-opacity="0.55" stroke="#b5c63a" stroke-opacity="0.55" stroke-width="0.6"/>
<circle cx="658.75" cy="369.25" r="2.8" fill="#f3fab0" fill-opacity="0.55" stroke="#b5c63a" stroke-opacity="0.55" stroke-width="0.6"/>
<circle cx="627.00" cy="382.50" r="2.4" fill="#f3fab0" fill-opacity="0.55" stroke="#b5c63a" stroke-opacity="0.55" stroke-width="0.6"/>
<circle cx="710.00" cy="380.75" r="2.4" fill="#f3fab0" fill-opacity="0.55" stroke="#b5c63a" stroke-opacity="0.55" stroke-width="0.6"/>
<circle cx="657.50" cy="395.00" r="3.4" fill="#f3fab0" fill-opacity="0.55" stroke="#b5c63a" stroke-opacity="0.55" stroke-width="0.6"/>
<circle cx="606.25" cy="404.50" r="2.0" fill="#f3fab0" fill-opacity="0.55" stroke="#b5c63a" stroke-opacity="0.55" stroke-width="0.6"/>
<circle cx="636.25" cy="404.50" r="2.4" fill="#f3fab0" fill-opacity="0.55" stroke="#b5c63a" stroke-opacity="0.55" stroke-width="0.6"/>
<circle cx="684.25" cy="405.00" r="2.4" fill="#f3fab0" fill-opacity="0.55" stroke="#b5c63a" stroke-opacity="0.55" stroke-width="0.6"/>
<circle cx="638.25" cy="425.50" r="2.2" fill="#f3fab0" fill-opacity="0.55" stroke="#b5c63a" stroke-opacity="0.55" stroke-width="0.6"/>
<g stroke="#2a2a2a" stroke-width="1.3" fill="#111">
<line x1="250" y1="255.9" x2="284" y2="255.9"/><path d="M290.2 255.9 L282 252.3 L283.7 255.9 L282 259.5 Z" stroke="none"/>
<line x1="630" y1="255.9" x2="664" y2="255.9"/><path d="M670.2 255.9 L662.2 252.3 L663.9 255.9 L662.2 259.5 Z" stroke="none"/>
</g>
</svg>
<div class="t" style="left:155.3px;top:135.2px;">Normal</div>
<div class="t" style="left:529.3px;top:135.2px;">GERD</div>
<div class="l" style="left:126.2px;top:248.6px;">Lower esophageal<br>sphincter (closed)</div>
<div class="l" style="left:505.7px;top:248.6px;">Lower esophageal<br>sphincter (open)</div>
</body></html>
